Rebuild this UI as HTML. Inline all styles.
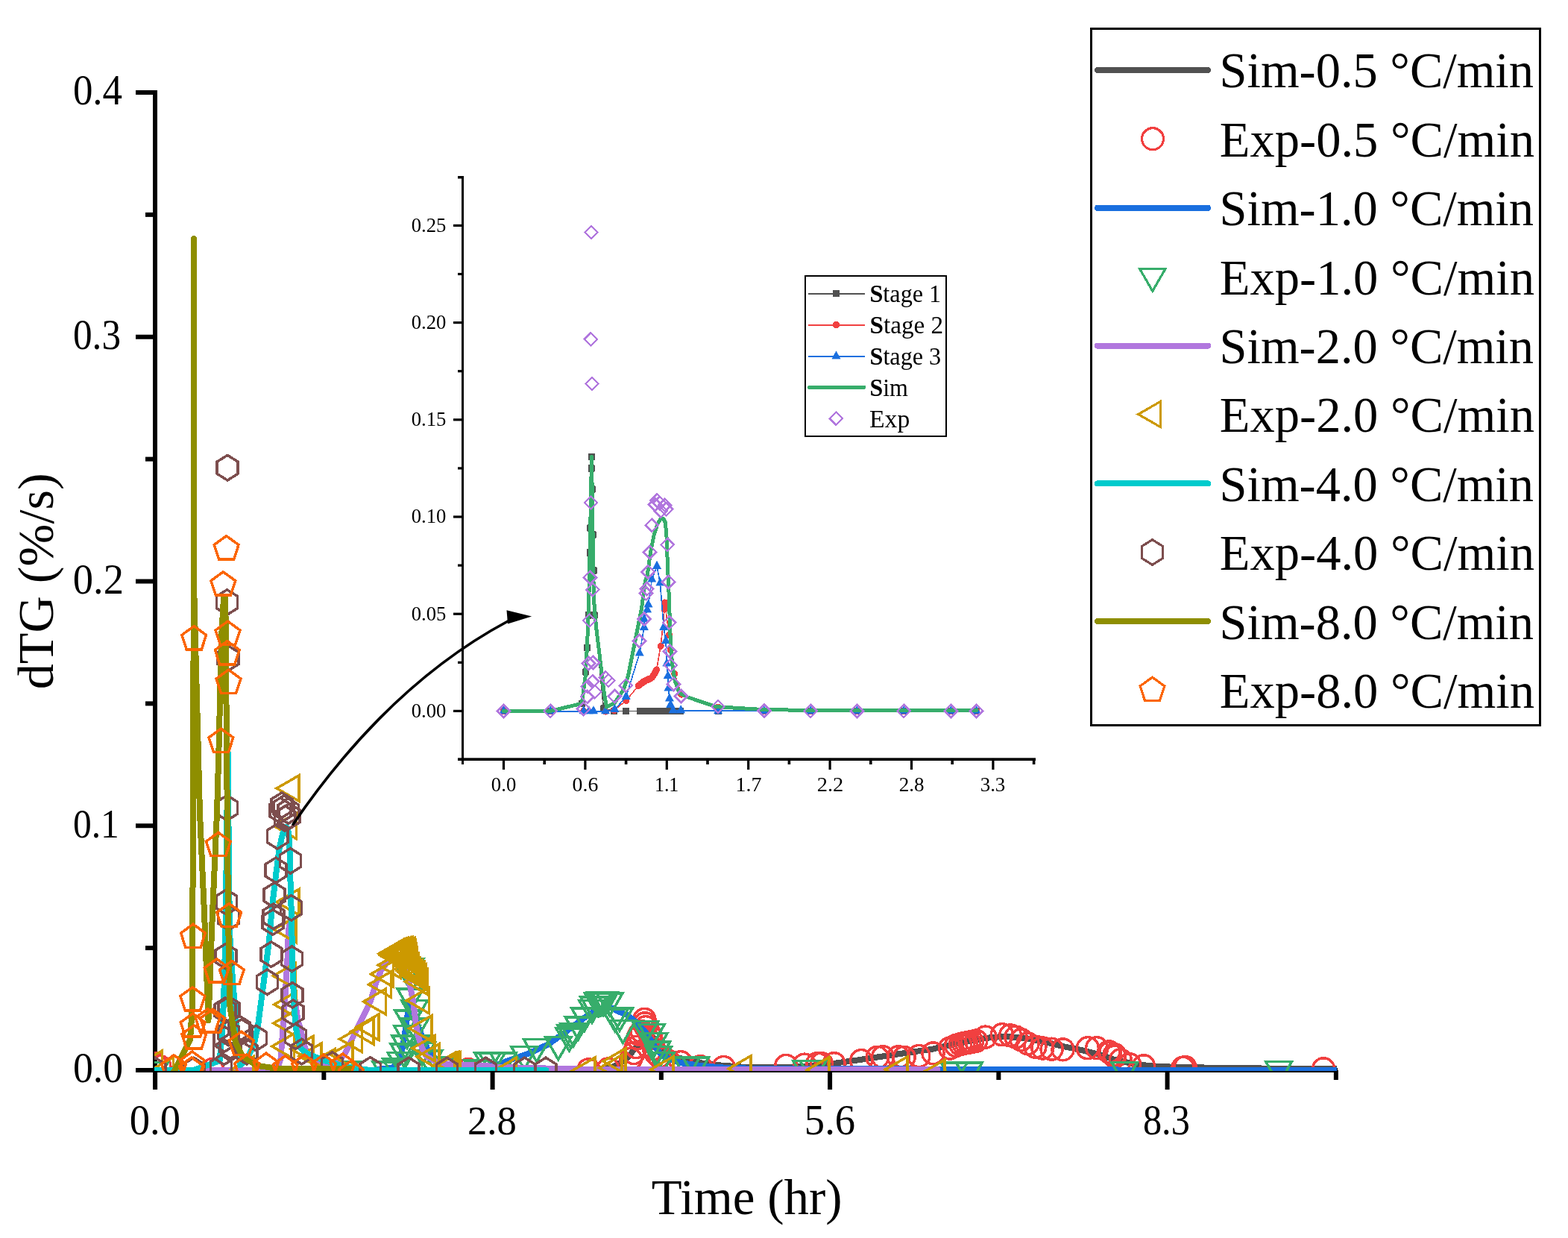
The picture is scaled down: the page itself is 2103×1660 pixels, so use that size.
<!DOCTYPE html>
<html lang="en"><head><meta charset="utf-8"><title>dTG vs Time</title>
<style>html,body{margin:0;padding:0;background:#fff}svg{display:block}text{font-family:"Liberation Serif", serif;fill:#000}</style></head>
<body>
<svg xmlns="http://www.w3.org/2000/svg" width="2103" height="1660" viewBox="0 0 2103 1660">
<defs><clipPath id="cm"><rect x="207" y="0" width="1586" height="1436"/></clipPath></defs>
<rect width="2103" height="1660" fill="#fff"/>
<g id="axes">
<rect x="205.00" y="121.00" width="6.00" height="1340.00" fill="#000"/>
<rect x="182.00" y="1432.00" width="1612.00" height="6.00" fill="#000"/>
<rect x="182.00" y="1432.00" width="26.00" height="6.00" fill="#000"/>
<rect x="195.00" y="1268.12" width="13.00" height="6.00" fill="#000"/>
<rect x="182.00" y="1104.25" width="26.00" height="6.00" fill="#000"/>
<rect x="195.00" y="940.38" width="13.00" height="6.00" fill="#000"/>
<rect x="182.00" y="776.50" width="26.00" height="6.00" fill="#000"/>
<rect x="195.00" y="612.62" width="13.00" height="6.00" fill="#000"/>
<rect x="182.00" y="448.75" width="26.00" height="6.00" fill="#000"/>
<rect x="195.00" y="284.88" width="13.00" height="6.00" fill="#000"/>
<rect x="182.00" y="121.00" width="26.00" height="6.00" fill="#000"/>
<rect x="205.10" y="1435.00" width="6.00" height="26.00" fill="#000"/>
<rect x="431.35" y="1435.00" width="6.00" height="13.00" fill="#000"/>
<rect x="657.60" y="1435.00" width="6.00" height="26.00" fill="#000"/>
<rect x="883.85" y="1435.00" width="6.00" height="13.00" fill="#000"/>
<rect x="1110.10" y="1435.00" width="6.00" height="26.00" fill="#000"/>
<rect x="1336.35" y="1435.00" width="6.00" height="13.00" fill="#000"/>
<rect x="1562.60" y="1435.00" width="6.00" height="26.00" fill="#000"/>
<rect x="1788.85" y="1435.00" width="6.00" height="13.00" fill="#000"/>
</g>
<g id="labels">
<text transform="translate(97.91,140.00) scale(0.9448,1)" font-size="56">0.4</text>
<text transform="translate(97.97,467.75) scale(0.9152,1)" font-size="56">0.3</text>
<text transform="translate(97.85,795.50) scale(0.9738,1)" font-size="56">0.2</text>
<text transform="translate(98.03,1123.25) scale(0.8831,1)" font-size="56">0.1</text>
<text transform="translate(97.88,1451.00) scale(0.9591,1)" font-size="56">0.0</text>
<text transform="translate(173.85,1520.70) scale(0.9742,1)" font-size="56">0.0</text>
<text transform="translate(627.02,1520.70) scale(0.9394,1)" font-size="56">2.8</text>
<text transform="translate(1078.87,1520.70) scale(0.9754,1)" font-size="56">5.6</text>
<text transform="translate(1532.90,1520.70) scale(0.8985,1)" font-size="56">8.3</text>
<text transform="translate(873.70,1628.00) scale(0.9988,1)" font-size="67">Time (hr)</text>
<text transform="translate(70.50,924.34) rotate(-90) scale(1.0193,1)" font-size="67">dTG (%/s)</text>
</g>
<g id="main-data" clip-path="url(#cm)" shape-rendering="crispEdges">
<g id="sim-gray"><polyline points="208.0,1435.0 600.0,1435.0 790.0,1434.5 820.0,1432.0 840.0,1420.0 850.0,1408.0 860.0,1396.0 868.0,1389.5 872.0,1388.5 877.0,1392.0 885.0,1402.0 895.0,1412.0 910.0,1418.4 931.3,1424.0 960.0,1428.0 1000.0,1431.0 1060.0,1431.0 1090.0,1429.0 1113.6,1426.5 1150.0,1421.5 1200.0,1414.0 1250.0,1406.8 1277.1,1400.6 1314.2,1393.2 1332.7,1390.7 1351.3,1390.0 1376.0,1392.0 1400.7,1396.9 1425.5,1403.0 1450.2,1408.0 1475.0,1414.2 1493.5,1420.4 1520.0,1426.5 1550.0,1430.0 1600.0,1431.3 1650.0,1432.0 1700.0,1432.6 1800.0,1433.1" fill="none" stroke="#515151" stroke-width="8" stroke-linejoin="round" stroke-linecap="round" /></g>
<g id="exp-red"><circle cx="208.0" cy="1426.0" r="14.5" fill="none" stroke="#F14040" stroke-width="3.5"/><circle cx="214.4" cy="1430.0" r="14.5" fill="none" stroke="#F14040" stroke-width="3.5"/><circle cx="285.0" cy="1434.0" r="14.5" fill="none" stroke="#F14040" stroke-width="3.5"/><circle cx="628.0" cy="1434.0" r="14.5" fill="none" stroke="#F14040" stroke-width="3.5"/><circle cx="789.4" cy="1434.3" r="14.5" fill="none" stroke="#F14040" stroke-width="3.5"/><circle cx="815.7" cy="1433.5" r="14.5" fill="none" stroke="#F14040" stroke-width="3.5"/><circle cx="846.0" cy="1420.0" r="14.5" fill="none" stroke="#F14040" stroke-width="3.5"/><circle cx="850.0" cy="1412.0" r="14.5" fill="none" stroke="#F14040" stroke-width="3.5"/><circle cx="853.0" cy="1404.0" r="14.5" fill="none" stroke="#F14040" stroke-width="3.5"/><circle cx="855.3" cy="1392.0" r="14.5" fill="none" stroke="#F14040" stroke-width="3.5"/><circle cx="857.5" cy="1387.0" r="14.5" fill="none" stroke="#F14040" stroke-width="3.5"/><circle cx="860.6" cy="1383.0" r="14.5" fill="none" stroke="#F14040" stroke-width="3.5"/><circle cx="864.4" cy="1366.9" r="14.5" fill="none" stroke="#F14040" stroke-width="3.5"/><circle cx="865.0" cy="1372.3" r="14.5" fill="none" stroke="#F14040" stroke-width="3.5"/><circle cx="866.0" cy="1377.2" r="14.5" fill="none" stroke="#F14040" stroke-width="3.5"/><circle cx="870.0" cy="1384.0" r="14.5" fill="none" stroke="#F14040" stroke-width="3.5"/><circle cx="872.7" cy="1390.0" r="14.5" fill="none" stroke="#F14040" stroke-width="3.5"/><circle cx="875.0" cy="1398.0" r="14.5" fill="none" stroke="#F14040" stroke-width="3.5"/><circle cx="877.0" cy="1406.0" r="14.5" fill="none" stroke="#F14040" stroke-width="3.5"/><circle cx="880.0" cy="1413.0" r="14.5" fill="none" stroke="#F14040" stroke-width="3.5"/><circle cx="884.0" cy="1417.0" r="14.5" fill="none" stroke="#F14040" stroke-width="3.5"/><circle cx="890.0" cy="1420.0" r="14.5" fill="none" stroke="#F14040" stroke-width="3.5"/><circle cx="897.0" cy="1423.0" r="14.5" fill="none" stroke="#F14040" stroke-width="3.5"/><circle cx="912.9" cy="1424.2" r="14.5" fill="none" stroke="#F14040" stroke-width="3.5"/><circle cx="939.4" cy="1430.2" r="14.5" fill="none" stroke="#F14040" stroke-width="3.5"/><circle cx="970.6" cy="1431.0" r="14.5" fill="none" stroke="#F14040" stroke-width="3.5"/><circle cx="1054.3" cy="1428.9" r="14.5" fill="none" stroke="#F14040" stroke-width="3.5"/><circle cx="1079.0" cy="1427.7" r="14.5" fill="none" stroke="#F14040" stroke-width="3.5"/><circle cx="1096.3" cy="1426.2" r="14.5" fill="none" stroke="#F14040" stroke-width="3.5"/><circle cx="1101.9" cy="1426.2" r="14.5" fill="none" stroke="#F14040" stroke-width="3.5"/><circle cx="1118.6" cy="1426.2" r="14.5" fill="none" stroke="#F14040" stroke-width="3.5"/><circle cx="1155.1" cy="1422.1" r="14.5" fill="none" stroke="#F14040" stroke-width="3.5"/><circle cx="1176.7" cy="1417.8" r="14.5" fill="none" stroke="#F14040" stroke-width="3.5"/><circle cx="1184.1" cy="1417.2" r="14.5" fill="none" stroke="#F14040" stroke-width="3.5"/><circle cx="1205.1" cy="1417.2" r="14.5" fill="none" stroke="#F14040" stroke-width="3.5"/><circle cx="1212.6" cy="1417.8" r="14.5" fill="none" stroke="#F14040" stroke-width="3.5"/><circle cx="1232.3" cy="1416.0" r="14.5" fill="none" stroke="#F14040" stroke-width="3.5"/><circle cx="1251.5" cy="1412.3" r="14.5" fill="none" stroke="#F14040" stroke-width="3.5"/><circle cx="1274.0" cy="1405.5" r="14.5" fill="none" stroke="#F14040" stroke-width="3.5"/><circle cx="1282.0" cy="1402.0" r="14.5" fill="none" stroke="#F14040" stroke-width="3.5"/><circle cx="1288.0" cy="1400.2" r="14.5" fill="none" stroke="#F14040" stroke-width="3.5"/><circle cx="1292.0" cy="1399.2" r="14.5" fill="none" stroke="#F14040" stroke-width="3.5"/><circle cx="1296.0" cy="1398.4" r="14.5" fill="none" stroke="#F14040" stroke-width="3.5"/><circle cx="1300.0" cy="1397.6" r="14.5" fill="none" stroke="#F14040" stroke-width="3.5"/><circle cx="1304.0" cy="1396.8" r="14.5" fill="none" stroke="#F14040" stroke-width="3.5"/><circle cx="1309.2" cy="1395.6" r="14.5" fill="none" stroke="#F14040" stroke-width="3.5"/><circle cx="1321.6" cy="1390.6" r="14.5" fill="none" stroke="#F14040" stroke-width="3.5"/><circle cx="1343.9" cy="1387.2" r="14.5" fill="none" stroke="#F14040" stroke-width="3.5"/><circle cx="1355.0" cy="1388.4" r="14.5" fill="none" stroke="#F14040" stroke-width="3.5"/><circle cx="1362.4" cy="1390.6" r="14.5" fill="none" stroke="#F14040" stroke-width="3.5"/><circle cx="1369.8" cy="1394.3" r="14.5" fill="none" stroke="#F14040" stroke-width="3.5"/><circle cx="1378.5" cy="1399.3" r="14.5" fill="none" stroke="#F14040" stroke-width="3.5"/><circle cx="1388.4" cy="1403.6" r="14.5" fill="none" stroke="#F14040" stroke-width="3.5"/><circle cx="1398.3" cy="1405.5" r="14.5" fill="none" stroke="#F14040" stroke-width="3.5"/><circle cx="1410.6" cy="1406.7" r="14.5" fill="none" stroke="#F14040" stroke-width="3.5"/><circle cx="1425.5" cy="1407.3" r="14.5" fill="none" stroke="#F14040" stroke-width="3.5"/><circle cx="1458.8" cy="1405.2" r="14.5" fill="none" stroke="#F14040" stroke-width="3.5"/><circle cx="1471.2" cy="1405.2" r="14.5" fill="none" stroke="#F14040" stroke-width="3.5"/><circle cx="1487.3" cy="1410.4" r="14.5" fill="none" stroke="#F14040" stroke-width="3.5"/><circle cx="1494.7" cy="1414.0" r="14.5" fill="none" stroke="#F14040" stroke-width="3.5"/><circle cx="1489.1" cy="1411.5" r="14.5" fill="none" stroke="#F14040" stroke-width="3.5"/><circle cx="1495.2" cy="1416.9" r="14.5" fill="none" stroke="#F14040" stroke-width="3.5"/><circle cx="1502.8" cy="1421.4" r="14.5" fill="none" stroke="#F14040" stroke-width="3.5"/><circle cx="1515.0" cy="1427.2" r="14.5" fill="none" stroke="#F14040" stroke-width="3.5"/><circle cx="1534.0" cy="1429.3" r="14.5" fill="none" stroke="#F14040" stroke-width="3.5"/><circle cx="1586.5" cy="1431.8" r="14.5" fill="none" stroke="#F14040" stroke-width="3.5"/><circle cx="1589.5" cy="1431.0" r="14.5" fill="none" stroke="#F14040" stroke-width="3.5"/><circle cx="1775.2" cy="1433.3" r="14.5" fill="none" stroke="#F14040" stroke-width="3.5"/></g>
<g id="sim-blue"><polyline points="208.0,1435.0 500.0,1435.0 525.0,1432.0 536.0,1425.0 539.0,1410.0 542.5,1390.0 546.0,1365.0 548.5,1349.0 550.0,1345.0 553.0,1352.0 557.5,1366.0 562.5,1380.0 567.0,1392.0 574.0,1408.0 585.0,1421.0 600.0,1428.0 610.0,1430.0 640.0,1430.5 669.5,1426.5 707.6,1413.2 736.1,1399.9 759.9,1382.7 783.6,1364.7 800.0,1354.0 812.0,1350.0 820.0,1351.5 828.6,1356.0 841.4,1361.0 855.0,1372.0 868.0,1386.8 880.0,1405.6 886.8,1414.2 900.0,1421.0 914.2,1425.3 939.8,1429.0 970.0,1431.5 1000.0,1432.5 1100.0,1432.9 1260.0,1433.7 1500.0,1434.5 1800.0,1434.8" fill="none" stroke="#1A6FDF" stroke-width="8" stroke-linejoin="round" stroke-linecap="round" /></g>
<g id="exp-green"><polygon points="190.7,1424.5 225.3,1424.5 208.0,1454.5" fill="none" stroke="#37AD6B" stroke-width="3.5"/><polygon points="449.7,1424.0 484.3,1424.0 467.0,1454.0" fill="none" stroke="#37AD6B" stroke-width="3.5"/><polygon points="500.1,1423.9 534.7,1423.9 517.4,1453.9" fill="none" stroke="#37AD6B" stroke-width="3.5"/><polygon points="513.7,1420.0 548.3,1420.0 531.0,1450.0" fill="none" stroke="#37AD6B" stroke-width="3.5"/><polygon points="520.2,1411.5 554.8,1411.5 537.5,1441.5" fill="none" stroke="#37AD6B" stroke-width="3.5"/><polygon points="524.1,1399.9 558.7,1399.9 541.4,1429.9" fill="none" stroke="#37AD6B" stroke-width="3.5"/><polygon points="526.0,1388.9 560.6,1388.9 543.3,1418.9" fill="none" stroke="#37AD6B" stroke-width="3.5"/><polygon points="528.6,1375.3 563.2,1375.3 545.9,1405.3" fill="none" stroke="#37AD6B" stroke-width="3.5"/><polygon points="529.9,1355.2 564.5,1355.2 547.2,1385.2" fill="none" stroke="#37AD6B" stroke-width="3.5"/><polygon points="533.1,1326.0 567.7,1326.0 550.4,1356.0" fill="none" stroke="#37AD6B" stroke-width="3.5"/><polygon points="533.5,1285.3 568.1,1285.3 550.8,1315.3" fill="none" stroke="#37AD6B" stroke-width="3.5"/><polygon points="534.7,1300.0 569.3,1300.0 552.0,1330.0" fill="none" stroke="#37AD6B" stroke-width="3.5"/><polygon points="538.7,1341.6 573.3,1341.6 556.0,1371.6" fill="none" stroke="#37AD6B" stroke-width="3.5"/><polygon points="540.0,1366.2 574.6,1366.2 557.3,1396.2" fill="none" stroke="#37AD6B" stroke-width="3.5"/><polygon points="543.8,1388.9 578.4,1388.9 561.1,1418.9" fill="none" stroke="#37AD6B" stroke-width="3.5"/><polygon points="548.7,1398.0 583.3,1398.0 566.0,1428.0" fill="none" stroke="#37AD6B" stroke-width="3.5"/><polygon points="558.1,1409.0 592.7,1409.0 575.4,1439.0" fill="none" stroke="#37AD6B" stroke-width="3.5"/><polygon points="572.7,1418.0 607.3,1418.0 590.0,1448.0" fill="none" stroke="#37AD6B" stroke-width="3.5"/><polygon points="622.7,1422.0 657.3,1422.0 640.0,1452.0" fill="none" stroke="#37AD6B" stroke-width="3.5"/><polygon points="636.7,1411.8 671.3,1411.8 654.0,1441.8" fill="none" stroke="#37AD6B" stroke-width="3.5"/><polygon points="642.7,1411.8 677.3,1411.8 660.0,1441.8" fill="none" stroke="#37AD6B" stroke-width="3.5"/><polygon points="657.5,1411.8 692.1,1411.8 674.8,1441.8" fill="none" stroke="#37AD6B" stroke-width="3.5"/><polygon points="685.9,1403.7 720.5,1403.7 703.2,1433.7" fill="none" stroke="#37AD6B" stroke-width="3.5"/><polygon points="702.5,1393.6 737.1,1393.6 719.8,1423.6" fill="none" stroke="#37AD6B" stroke-width="3.5"/><polygon points="731.5,1390.7 766.1,1390.7 748.8,1420.7" fill="none" stroke="#37AD6B" stroke-width="3.5"/><polygon points="746.1,1379.2 780.7,1379.2 763.4,1409.2" fill="none" stroke="#37AD6B" stroke-width="3.5"/><polygon points="748.2,1375.0 782.8,1375.0 765.5,1405.0" fill="none" stroke="#37AD6B" stroke-width="3.5"/><polygon points="751.8,1372.8 786.4,1372.8 769.1,1402.8" fill="none" stroke="#37AD6B" stroke-width="3.5"/><polygon points="758.2,1363.8 792.8,1363.8 775.5,1393.8" fill="none" stroke="#37AD6B" stroke-width="3.5"/><polygon points="766.7,1351.9 801.3,1351.9 784.0,1381.9" fill="none" stroke="#37AD6B" stroke-width="3.5"/><polygon points="776.7,1341.4 811.3,1341.4 794.0,1371.4" fill="none" stroke="#37AD6B" stroke-width="3.5"/><polygon points="778.9,1337.2 813.5,1337.2 796.2,1367.2" fill="none" stroke="#37AD6B" stroke-width="3.5"/><polygon points="784.6,1332.2 819.2,1332.2 801.9,1362.2" fill="none" stroke="#37AD6B" stroke-width="3.5"/><polygon points="786.2,1331.5 820.8,1331.5 803.5,1361.5" fill="none" stroke="#37AD6B" stroke-width="3.5"/><polygon points="787.7,1331.0 822.3,1331.0 805.0,1361.0" fill="none" stroke="#37AD6B" stroke-width="3.5"/><polygon points="789.2,1330.7 823.8,1330.7 806.5,1360.7" fill="none" stroke="#37AD6B" stroke-width="3.5"/><polygon points="791.0,1330.7 825.6,1330.7 808.3,1360.7" fill="none" stroke="#37AD6B" stroke-width="3.5"/><polygon points="792.5,1330.6 827.1,1330.6 809.8,1360.6" fill="none" stroke="#37AD6B" stroke-width="3.5"/><polygon points="793.9,1331.0 828.5,1331.0 811.2,1361.0" fill="none" stroke="#37AD6B" stroke-width="3.5"/><polygon points="800.4,1331.9 835.0,1331.9 817.7,1361.9" fill="none" stroke="#37AD6B" stroke-width="3.5"/><polygon points="807.5,1352.9 842.1,1352.9 824.8,1382.9" fill="none" stroke="#37AD6B" stroke-width="3.5"/><polygon points="813.8,1352.1 848.4,1352.1 831.1,1382.1" fill="none" stroke="#37AD6B" stroke-width="3.5"/><polygon points="818.1,1368.5 852.7,1368.5 835.4,1398.5" fill="none" stroke="#37AD6B" stroke-width="3.5"/><polygon points="848.2,1369.3 882.8,1369.3 865.5,1399.3" fill="none" stroke="#37AD6B" stroke-width="3.5"/><polygon points="856.7,1373.5 891.3,1373.5 874.0,1403.5" fill="none" stroke="#37AD6B" stroke-width="3.5"/><polygon points="860.3,1385.7 894.9,1385.7 877.6,1415.7" fill="none" stroke="#37AD6B" stroke-width="3.5"/><polygon points="863.9,1397.1 898.5,1397.1 881.2,1427.1" fill="none" stroke="#37AD6B" stroke-width="3.5"/><polygon points="866.0,1403.5 900.6,1403.5 883.3,1433.5" fill="none" stroke="#37AD6B" stroke-width="3.5"/><polygon points="869.6,1411.3 904.2,1411.3 886.9,1441.3" fill="none" stroke="#37AD6B" stroke-width="3.5"/><polygon points="903.7,1417.8 938.3,1417.8 921.0,1447.8" fill="none" stroke="#37AD6B" stroke-width="3.5"/><polygon points="915.9,1417.8 950.5,1417.8 933.2,1447.8" fill="none" stroke="#37AD6B" stroke-width="3.5"/><polygon points="1063.7,1422.5 1098.3,1422.5 1081.0,1452.5" fill="none" stroke="#37AD6B" stroke-width="3.5"/><polygon points="1073.3,1422.5 1107.9,1422.5 1090.6,1452.5" fill="none" stroke="#37AD6B" stroke-width="3.5"/><polygon points="1262.4,1425.0 1297.0,1425.0 1279.7,1455.0" fill="none" stroke="#37AD6B" stroke-width="3.5"/><polygon points="1282.5,1425.0 1317.1,1425.0 1299.8,1455.0" fill="none" stroke="#37AD6B" stroke-width="3.5"/><polygon points="1490.8,1424.4 1525.4,1424.4 1508.1,1454.4" fill="none" stroke="#37AD6B" stroke-width="3.5"/><polygon points="1697.8,1423.7 1732.4,1423.7 1715.1,1453.7" fill="none" stroke="#37AD6B" stroke-width="3.5"/></g>
<g id="sim-purple"><polyline points="208.0,1435.0 360.0,1435.0 372.0,1432.0 376.5,1420.0 381.7,1347.6 385.4,1288.6 386.8,1251.7 388.2,1238.0 390.5,1246.0 392.4,1290.0 394.0,1330.0 399.0,1365.0 405.3,1390.0 409.7,1406.6 418.6,1421.4 432.0,1428.0 448.0,1426.0 456.0,1421.0 462.9,1412.5 477.8,1381.6 489.2,1358.7 497.2,1341.6 504.1,1318.7 511.0,1301.5 520.1,1288.9 531.6,1272.9 537.0,1268.5 541.0,1270.0 543.6,1277.5 545.3,1301.5 549.5,1320.0 553.9,1341.6 556.8,1364.5 560.2,1387.4 565.9,1404.5 571.6,1416.0 583.6,1423.0 596.6,1427.0 620.0,1428.4 650.0,1428.6 665.0,1431.0 700.0,1431.6 745.0,1432.9 800.0,1433.8 900.0,1434.1 1000.0,1434.1 1257.5,1434.2" fill="none" stroke="#B177DE" stroke-width="8" stroke-linejoin="round" stroke-linecap="round" /></g>
<g id="exp-gold"><polygon points="217.6,1408.8 217.6,1443.2 187.6,1426.0" fill="none" stroke="#CC9900" stroke-width="3.5"/><polygon points="232.5,1417.6 232.5,1452.0 202.5,1434.8" fill="none" stroke="#CC9900" stroke-width="3.5"/><polygon points="340.0,1416.8 340.0,1451.2 310.0,1434.0" fill="none" stroke="#CC9900" stroke-width="3.5"/><polygon points="394.7,1385.8 394.7,1420.2 364.7,1403.0" fill="none" stroke="#CC9900" stroke-width="3.5"/><polygon points="396.9,1354.8 396.9,1389.2 366.9,1372.0" fill="none" stroke="#CC9900" stroke-width="3.5"/><polygon points="397.7,1329.7 397.7,1364.1 367.7,1346.9" fill="none" stroke="#CC9900" stroke-width="3.5"/><polygon points="396.4,1291.3 396.4,1325.7 366.4,1308.5" fill="none" stroke="#CC9900" stroke-width="3.5"/><polygon points="397.1,1229.3 397.1,1263.7 367.1,1246.5" fill="none" stroke="#CC9900" stroke-width="3.5"/><polygon points="400.8,1192.4 400.8,1226.8 370.8,1209.6" fill="none" stroke="#CC9900" stroke-width="3.5"/><polygon points="397.4,1090.3 397.4,1124.7 367.4,1107.5" fill="none" stroke="#CC9900" stroke-width="3.5"/><polygon points="401.0,1039.8 401.0,1074.2 371.0,1057.0" fill="none" stroke="#CC9900" stroke-width="3.5"/><polygon points="420.0,1389.4 420.0,1423.8 390.0,1406.6" fill="none" stroke="#CC9900" stroke-width="3.5"/><polygon points="431.1,1399.0 431.1,1433.4 401.1,1416.2" fill="none" stroke="#CC9900" stroke-width="3.5"/><polygon points="449.5,1406.4 449.5,1440.8 419.5,1423.6" fill="none" stroke="#CC9900" stroke-width="3.5"/><polygon points="472.9,1396.7 472.9,1431.1 442.9,1413.9" fill="none" stroke="#CC9900" stroke-width="3.5"/><polygon points="485.5,1376.1 485.5,1410.5 455.5,1393.3" fill="none" stroke="#CC9900" stroke-width="3.5"/><polygon points="501.0,1365.8 501.0,1400.2 471.0,1383.0" fill="none" stroke="#CC9900" stroke-width="3.5"/><polygon points="507.9,1360.1 507.9,1394.5 477.9,1377.3" fill="none" stroke="#CC9900" stroke-width="3.5"/><polygon points="517.6,1325.8 517.6,1360.2 487.6,1343.0" fill="none" stroke="#CC9900" stroke-width="3.5"/><polygon points="524.5,1302.9 524.5,1337.3 494.5,1320.1" fill="none" stroke="#CC9900" stroke-width="3.5"/><polygon points="527.4,1288.9 527.4,1323.3 497.4,1306.1" fill="none" stroke="#CC9900" stroke-width="3.5"/><polygon points="537.1,1276.9 537.1,1311.3 507.1,1294.1" fill="none" stroke="#CC9900" stroke-width="3.5"/><polygon points="538.2,1261.4 538.2,1295.8 508.2,1278.6" fill="none" stroke="#CC9900" stroke-width="3.5"/><polygon points="539.5,1263.8 539.5,1298.2 509.5,1281.0" fill="none" stroke="#CC9900" stroke-width="3.5"/><polygon points="541.0,1259.8 541.0,1294.2 511.0,1277.0" fill="none" stroke="#CC9900" stroke-width="3.5"/><polygon points="542.5,1262.3 542.5,1296.7 512.5,1279.5" fill="none" stroke="#CC9900" stroke-width="3.5"/><polygon points="544.0,1258.8 544.0,1293.2 514.0,1276.0" fill="none" stroke="#CC9900" stroke-width="3.5"/><polygon points="545.5,1260.8 545.5,1295.2 515.5,1278.0" fill="none" stroke="#CC9900" stroke-width="3.5"/><polygon points="547.0,1257.8 547.0,1292.2 517.0,1275.0" fill="none" stroke="#CC9900" stroke-width="3.5"/><polygon points="548.5,1259.8 548.5,1294.2 518.5,1277.0" fill="none" stroke="#CC9900" stroke-width="3.5"/><polygon points="550.0,1257.3 550.0,1291.7 520.0,1274.5" fill="none" stroke="#CC9900" stroke-width="3.5"/><polygon points="551.5,1259.3 551.5,1293.7 521.5,1276.5" fill="none" stroke="#CC9900" stroke-width="3.5"/><polygon points="553.0,1256.8 553.0,1291.2 523.0,1274.0" fill="none" stroke="#CC9900" stroke-width="3.5"/><polygon points="554.5,1258.8 554.5,1293.2 524.5,1276.0" fill="none" stroke="#CC9900" stroke-width="3.5"/><polygon points="556.5,1257.1 556.5,1291.5 526.5,1274.3" fill="none" stroke="#CC9900" stroke-width="3.5"/><polygon points="557.2,1260.8 557.2,1295.2 527.2,1278.0" fill="none" stroke="#CC9900" stroke-width="3.5"/><polygon points="558.0,1265.8 558.0,1300.2 528.0,1283.0" fill="none" stroke="#CC9900" stroke-width="3.5"/><polygon points="559.0,1270.8 559.0,1305.2 529.0,1288.0" fill="none" stroke="#CC9900" stroke-width="3.5"/><polygon points="559.5,1276.8 559.5,1311.2 529.5,1294.0" fill="none" stroke="#CC9900" stroke-width="3.5"/><polygon points="559.9,1282.3 559.9,1316.7 529.9,1299.5" fill="none" stroke="#CC9900" stroke-width="3.5"/><polygon points="561.0,1278.8 561.0,1313.2 531.0,1296.0" fill="none" stroke="#CC9900" stroke-width="3.5"/><polygon points="563.0,1284.8 563.0,1319.2 533.0,1302.0" fill="none" stroke="#CC9900" stroke-width="3.5"/><polygon points="566.0,1287.3 566.0,1321.7 536.0,1304.5" fill="none" stroke="#CC9900" stroke-width="3.5"/><polygon points="569.0,1289.8 569.0,1324.2 539.0,1307.0" fill="none" stroke="#CC9900" stroke-width="3.5"/><polygon points="571.7,1292.5 571.7,1326.9 541.7,1309.7" fill="none" stroke="#CC9900" stroke-width="3.5"/><polygon points="573.5,1299.1 573.5,1333.5 543.5,1316.3" fill="none" stroke="#CC9900" stroke-width="3.5"/><polygon points="575.3,1324.4 575.3,1358.8 545.3,1341.6" fill="none" stroke="#CC9900" stroke-width="3.5"/><polygon points="579.0,1361.8 579.0,1396.2 549.0,1379.0" fill="none" stroke="#CC9900" stroke-width="3.5"/><polygon points="583.2,1388.3 583.2,1422.7 553.2,1405.5" fill="none" stroke="#CC9900" stroke-width="3.5"/><polygon points="589.2,1399.7 589.2,1434.1 559.2,1416.9" fill="none" stroke="#CC9900" stroke-width="3.5"/><polygon points="610.0,1411.8 610.0,1446.2 580.0,1429.0" fill="none" stroke="#CC9900" stroke-width="3.5"/><polygon points="612.5,1411.3 612.5,1445.7 582.5,1428.5" fill="none" stroke="#CC9900" stroke-width="3.5"/><polygon points="615.0,1410.8 615.0,1445.2 585.0,1428.0" fill="none" stroke="#CC9900" stroke-width="3.5"/><polygon points="617.5,1410.6 617.5,1445.0 587.5,1427.8" fill="none" stroke="#CC9900" stroke-width="3.5"/><polygon points="692.7,1418.2 692.7,1452.6 662.7,1435.4" fill="none" stroke="#CC9900" stroke-width="3.5"/><polygon points="797.8,1418.2 797.8,1452.6 767.8,1435.4" fill="none" stroke="#CC9900" stroke-width="3.5"/><polygon points="834.0,1414.8 834.0,1449.2 804.0,1432.0" fill="none" stroke="#CC9900" stroke-width="3.5"/><polygon points="839.0,1405.8 839.0,1440.2 809.0,1423.0" fill="none" stroke="#CC9900" stroke-width="3.5"/><polygon points="902.8,1416.8 902.8,1451.2 872.8,1434.0" fill="none" stroke="#CC9900" stroke-width="3.5"/><polygon points="1007.0,1415.9 1007.0,1450.3 977.0,1433.1" fill="none" stroke="#CC9900" stroke-width="3.5"/><polygon points="1112.1,1417.5 1112.1,1451.9 1082.1,1434.7" fill="none" stroke="#CC9900" stroke-width="3.5"/><polygon points="1217.2,1416.9 1217.2,1451.3 1187.2,1434.1" fill="none" stroke="#CC9900" stroke-width="3.5"/><polygon points="1267.2,1421.0 1267.2,1455.4 1237.2,1438.2" fill="none" stroke="#CC9900" stroke-width="3.5"/></g>
<g id="sim-cyan"><polyline points="208.0,1435.0 259.8,1435.0 294.7,1422.3 298.6,1376.0 300.6,1322.9 302.1,1262.2 302.9,1216.8 305.5,1006.0 307.6,1216.8 308.6,1262.2 311.0,1300.2 314.1,1338.1 317.1,1376.0 319.6,1406.3 322.0,1428.3 331.0,1421.5 341.0,1398.8 345.9,1376.0 350.9,1338.1 355.9,1300.2 360.9,1262.2 364.8,1216.8 370.8,1167.2 374.8,1136.9 379.0,1118.0 382.8,1108.8 385.5,1110.5 387.2,1117.1 388.7,1144.4 389.7,1190.0 390.7,1220.3 391.7,1262.2 392.7,1307.8 394.7,1353.2 397.7,1383.5 402.7,1404.8 410.6,1412.0 418.6,1415.5 433.3,1421.4 462.8,1430.3 492.4,1434.5 505.9,1435.0 732.3,1435.0" fill="none" stroke="#00CBCC" stroke-width="8" stroke-linejoin="round" stroke-linecap="round" /></g>
<g id="exp-brown"><polygon points="208.0,1418.2 221.9,1426.9 221.9,1443.1 208.0,1451.8 194.1,1443.1 194.1,1426.9" fill="none" stroke="#7D4E4E" stroke-width="3.5"/><polygon points="259.8,1418.2 273.8,1426.9 273.8,1443.1 259.8,1451.8 245.9,1443.1 245.9,1426.9" fill="none" stroke="#7D4E4E" stroke-width="3.5"/><polygon points="296.7,1414.6 310.6,1423.3 310.6,1439.5 296.7,1448.2 282.7,1439.5 282.7,1423.3" fill="none" stroke="#7D4E4E" stroke-width="3.5"/><polygon points="305.1,610.4 319.0,619.1 319.0,635.3 305.1,644.0 291.1,635.3 291.1,619.1" fill="none" stroke="#7D4E4E" stroke-width="3.5"/><polygon points="304.5,790.8 318.5,799.5 318.5,815.7 304.5,824.4 290.6,815.7 290.6,799.5" fill="none" stroke="#7D4E4E" stroke-width="3.5"/><polygon points="305.9,865.8 319.9,874.5 319.9,890.7 305.9,899.4 292.0,890.7 292.0,874.5" fill="none" stroke="#7D4E4E" stroke-width="3.5"/><polygon points="304.6,1066.5 318.5,1075.2 318.5,1091.4 304.6,1100.1 290.6,1091.4 290.6,1075.2" fill="none" stroke="#7D4E4E" stroke-width="3.5"/><polygon points="303.8,1192.8 317.7,1201.5 317.7,1217.7 303.8,1226.4 289.8,1217.7 289.8,1201.5" fill="none" stroke="#7D4E4E" stroke-width="3.5"/><polygon points="306.6,1213.3 320.5,1222.0 320.5,1238.2 306.6,1246.9 292.6,1238.2 292.6,1222.0" fill="none" stroke="#7D4E4E" stroke-width="3.5"/><polygon points="302.9,1265.4 316.9,1274.1 316.9,1290.3 302.9,1299.0 289.0,1290.3 289.0,1274.1" fill="none" stroke="#7D4E4E" stroke-width="3.5"/><polygon points="302.1,1337.9 316.1,1346.6 316.1,1362.8 302.1,1371.5 288.2,1362.8 288.2,1346.6" fill="none" stroke="#7D4E4E" stroke-width="3.5"/><polygon points="307.1,1336.4 321.0,1345.1 321.0,1361.3 307.1,1370.0 293.1,1361.3 293.1,1345.1" fill="none" stroke="#7D4E4E" stroke-width="3.5"/><polygon points="306.6,1368.2 320.5,1376.9 320.5,1393.1 306.6,1401.8 292.6,1393.1 292.6,1376.9" fill="none" stroke="#7D4E4E" stroke-width="3.5"/><polygon points="301.1,1376.7 315.1,1385.4 315.1,1401.6 301.1,1410.3 287.2,1401.6 287.2,1385.4" fill="none" stroke="#7D4E4E" stroke-width="3.5"/><polygon points="309.1,1385.7 323.0,1394.4 323.0,1410.6 309.1,1419.3 295.1,1410.6 295.1,1394.4" fill="none" stroke="#7D4E4E" stroke-width="3.5"/><polygon points="300.6,1394.0 314.6,1402.7 314.6,1418.9 300.6,1427.6 286.7,1418.9 286.7,1402.7" fill="none" stroke="#7D4E4E" stroke-width="3.5"/><polygon points="321.0,1362.2 335.0,1370.9 335.0,1387.1 321.0,1395.8 307.1,1387.1 307.1,1370.9" fill="none" stroke="#7D4E4E" stroke-width="3.5"/><polygon points="324.0,1366.7 338.0,1375.4 338.0,1391.6 324.0,1400.3 310.1,1391.6 310.1,1375.4" fill="none" stroke="#7D4E4E" stroke-width="3.5"/><polygon points="331.0,1393.3 344.9,1402.0 344.9,1418.2 331.0,1426.9 317.0,1418.2 317.0,1402.0" fill="none" stroke="#7D4E4E" stroke-width="3.5"/><polygon points="343.4,1375.2 357.4,1383.9 357.4,1400.1 343.4,1408.8 329.5,1400.1 329.5,1383.9" fill="none" stroke="#7D4E4E" stroke-width="3.5"/><polygon points="358.4,1300.0 372.3,1308.7 372.3,1324.9 358.4,1333.6 344.4,1324.9 344.4,1308.7" fill="none" stroke="#7D4E4E" stroke-width="3.5"/><polygon points="363.8,1262.9 377.8,1271.6 377.8,1287.8 363.8,1296.5 349.9,1287.8 349.9,1271.6" fill="none" stroke="#7D4E4E" stroke-width="3.5"/><polygon points="365.8,1219.7 379.8,1228.4 379.8,1244.6 365.8,1253.3 351.9,1244.6 351.9,1228.4" fill="none" stroke="#7D4E4E" stroke-width="3.5"/><polygon points="366.8,1212.0 380.8,1220.7 380.8,1236.9 366.8,1245.6 352.9,1236.9 352.9,1220.7" fill="none" stroke="#7D4E4E" stroke-width="3.5"/><polygon points="368.1,1183.5 382.0,1192.2 382.0,1208.4 368.1,1217.1 354.1,1208.4 354.1,1192.2" fill="none" stroke="#7D4E4E" stroke-width="3.5"/><polygon points="370.0,1150.1 384.0,1158.8 384.0,1175.0 370.0,1183.7 356.1,1175.0 356.1,1158.8" fill="none" stroke="#7D4E4E" stroke-width="3.5"/><polygon points="372.3,1104.6 386.2,1113.3 386.2,1129.5 372.3,1138.2 358.3,1129.5 358.3,1113.3" fill="none" stroke="#7D4E4E" stroke-width="3.5"/><polygon points="375.8,1069.9 389.8,1078.6 389.8,1094.8 375.8,1103.5 361.9,1094.8 361.9,1078.6" fill="none" stroke="#7D4E4E" stroke-width="3.5"/><polygon points="378.0,1062.8 391.9,1071.5 391.9,1087.7 378.0,1096.4 364.0,1087.7 364.0,1071.5" fill="none" stroke="#7D4E4E" stroke-width="3.5"/><polygon points="380.8,1066.9 394.7,1075.6 394.7,1091.8 380.8,1100.5 366.8,1091.8 366.8,1075.6" fill="none" stroke="#7D4E4E" stroke-width="3.5"/><polygon points="382.3,1080.6 396.2,1089.3 396.2,1105.5 382.3,1114.2 368.3,1105.5 368.3,1089.3" fill="none" stroke="#7D4E4E" stroke-width="3.5"/><polygon points="386.7,1070.7 400.7,1079.4 400.7,1095.6 386.7,1104.3 372.8,1095.6 372.8,1079.4" fill="none" stroke="#7D4E4E" stroke-width="3.5"/><polygon points="388.2,1077.6 402.2,1086.3 402.2,1102.5 388.2,1111.2 374.3,1102.5 374.3,1086.3" fill="none" stroke="#7D4E4E" stroke-width="3.5"/><polygon points="389.5,1137.5 403.4,1146.2 403.4,1162.4 389.5,1171.1 375.5,1162.4 375.5,1146.2" fill="none" stroke="#7D4E4E" stroke-width="3.5"/><polygon points="390.7,1200.5 404.6,1209.2 404.6,1225.4 390.7,1234.1 376.7,1225.4 376.7,1209.2" fill="none" stroke="#7D4E4E" stroke-width="3.5"/><polygon points="391.5,1268.9 405.5,1277.6 405.5,1293.8 391.5,1302.5 377.6,1293.8 377.6,1277.6" fill="none" stroke="#7D4E4E" stroke-width="3.5"/><polygon points="392.2,1317.5 406.1,1326.2 406.1,1342.4 392.2,1351.1 378.2,1342.4 378.2,1326.2" fill="none" stroke="#7D4E4E" stroke-width="3.5"/><polygon points="393.2,1340.9 407.1,1349.6 407.1,1365.8 393.2,1374.5 379.2,1365.8 379.2,1349.6" fill="none" stroke="#7D4E4E" stroke-width="3.5"/><polygon points="396.4,1372.8 410.3,1381.5 410.3,1397.7 396.4,1406.4 382.4,1397.7 382.4,1381.5" fill="none" stroke="#7D4E4E" stroke-width="3.5"/><polygon points="404.7,1393.3 418.6,1402.0 418.6,1418.2 404.7,1426.9 390.7,1418.2 390.7,1402.0" fill="none" stroke="#7D4E4E" stroke-width="3.5"/><polygon points="445.6,1410.8 459.6,1419.5 459.6,1435.7 445.6,1444.4 431.7,1435.7 431.7,1419.5" fill="none" stroke="#7D4E4E" stroke-width="3.5"/><polygon points="496.7,1417.7 510.7,1426.4 510.7,1442.6 496.7,1451.3 482.8,1442.6 482.8,1426.4" fill="none" stroke="#7D4E4E" stroke-width="3.5"/><polygon points="548.2,1418.2 562.1,1426.9 562.1,1443.1 548.2,1451.8 534.2,1443.1 534.2,1426.9" fill="none" stroke="#7D4E4E" stroke-width="3.5"/><polygon points="599.5,1418.2 613.5,1426.9 613.5,1443.1 599.5,1451.8 585.6,1443.1 585.6,1426.9" fill="none" stroke="#7D4E4E" stroke-width="3.5"/><polygon points="651.4,1418.2 665.3,1426.9 665.3,1443.1 651.4,1451.8 637.4,1443.1 637.4,1426.9" fill="none" stroke="#7D4E4E" stroke-width="3.5"/><polygon points="703.7,1418.2 717.6,1426.9 717.6,1443.1 703.7,1451.8 689.7,1443.1 689.7,1426.9" fill="none" stroke="#7D4E4E" stroke-width="3.5"/><polygon points="732.0,1418.2 746.0,1426.9 746.0,1443.1 732.0,1451.8 718.1,1443.1 718.1,1426.9" fill="none" stroke="#7D4E4E" stroke-width="3.5"/></g>
<g id="sim-olive"><polyline points="226.0,1446.0 234.0,1436.0 245.6,1412.8 255.0,1394.0 258.0,1349.0 259.8,800.0 260.0,320.0 260.2,790.0 268.0,1090.0 274.2,1228.7 279.5,1368.0 284.8,1228.7 291.0,1090.0 293.5,1003.0 295.2,931.0 297.0,855.0 300.0,801.0 302.0,801.0 303.2,858.7 303.4,931.0 304.0,1003.0 304.8,1090.0 306.0,1228.7 308.4,1349.0 315.7,1397.0 325.3,1416.6 344.6,1428.7 368.7,1432.5 400.0,1432.5 470.2,1432.5" fill="none" stroke="#8E8E00" stroke-width="8" stroke-linejoin="round" stroke-linecap="round" /></g>
<g id="exp-orange"><polygon points="233.1,1414.7 249.5,1426.5 243.2,1445.8 223.0,1445.8 216.7,1426.5" fill="none" stroke="#FB6501" stroke-width="3.5"/><polygon points="257.8,1410.0 274.2,1421.8 267.9,1441.1 247.7,1441.1 241.4,1421.8" fill="none" stroke="#FB6501" stroke-width="3.5"/><polygon points="257.1,1417.9 273.5,1429.7 267.2,1449.0 247.0,1449.0 240.7,1429.7" fill="none" stroke="#FB6501" stroke-width="3.5"/><polygon points="260.2,839.6 276.6,851.5 270.3,870.8 250.1,870.8 243.8,851.5" fill="none" stroke="#FB6501" stroke-width="3.5"/><polygon points="259.0,1239.2 275.4,1251.1 269.1,1270.4 248.9,1270.4 242.6,1251.1" fill="none" stroke="#FB6501" stroke-width="3.5"/><polygon points="258.3,1323.8 274.7,1335.6 268.4,1354.9 248.2,1354.9 241.9,1335.6" fill="none" stroke="#FB6501" stroke-width="3.5"/><polygon points="258.6,1359.0 275.0,1370.8 268.7,1390.1 248.5,1390.1 242.2,1370.8" fill="none" stroke="#FB6501" stroke-width="3.5"/><polygon points="260.2,1374.8 276.6,1386.6 270.3,1405.9 250.1,1405.9 243.8,1386.6" fill="none" stroke="#FB6501" stroke-width="3.5"/><polygon points="303.6,718.6 320.0,730.5 313.7,749.8 293.5,749.8 287.2,730.5" fill="none" stroke="#FB6501" stroke-width="3.5"/><polygon points="299.3,766.8 315.7,778.7 309.4,798.0 289.2,798.0 282.9,778.7" fill="none" stroke="#FB6501" stroke-width="3.5"/><polygon points="305.5,833.1 321.9,845.0 315.6,864.3 295.4,864.3 289.1,845.0" fill="none" stroke="#FB6501" stroke-width="3.5"/><polygon points="304.8,859.6 321.2,871.5 314.9,890.8 294.7,890.8 288.4,871.5" fill="none" stroke="#FB6501" stroke-width="3.5"/><polygon points="306.5,898.1 322.9,910.0 316.6,929.3 296.4,929.3 290.1,910.0" fill="none" stroke="#FB6501" stroke-width="3.5"/><polygon points="296.4,977.1 312.8,989.0 306.5,1008.3 286.3,1008.3 280.0,989.0" fill="none" stroke="#FB6501" stroke-width="3.5"/><polygon points="292.8,1116.4 309.2,1128.2 302.9,1147.5 282.7,1147.5 276.4,1128.2" fill="none" stroke="#FB6501" stroke-width="3.5"/><polygon points="307.2,1211.5 323.6,1223.3 317.3,1242.6 297.1,1242.6 290.8,1223.3" fill="none" stroke="#FB6501" stroke-width="3.5"/><polygon points="290.7,1285.9 307.1,1297.7 300.8,1317.0 280.6,1317.0 274.3,1297.7" fill="none" stroke="#FB6501" stroke-width="3.5"/><polygon points="310.9,1288.5 327.3,1300.3 321.0,1319.6 300.8,1319.6 294.5,1300.3" fill="none" stroke="#FB6501" stroke-width="3.5"/><polygon points="278.5,1352.8 294.9,1364.6 288.6,1383.9 268.4,1383.9 262.1,1364.6" fill="none" stroke="#FB6501" stroke-width="3.5"/><polygon points="285.3,1353.2 301.7,1365.1 295.4,1384.4 275.2,1384.4 268.9,1365.1" fill="none" stroke="#FB6501" stroke-width="3.5"/><polygon points="323.8,1383.2 340.2,1395.0 333.9,1414.3 313.7,1414.3 307.4,1395.0" fill="none" stroke="#FB6501" stroke-width="3.5"/><polygon points="331.2,1414.0 347.6,1425.8 341.3,1445.1 321.1,1445.1 314.8,1425.8" fill="none" stroke="#FB6501" stroke-width="3.5"/><polygon points="356.9,1412.2 373.3,1424.0 367.0,1443.3 346.8,1443.3 340.5,1424.0" fill="none" stroke="#FB6501" stroke-width="3.5"/><polygon points="382.6,1415.7 399.0,1427.5 392.7,1446.8 372.5,1446.8 366.2,1427.5" fill="none" stroke="#FB6501" stroke-width="3.5"/><polygon points="408.3,1414.2 424.7,1426.1 418.4,1445.4 398.2,1445.4 391.9,1426.1" fill="none" stroke="#FB6501" stroke-width="3.5"/><polygon points="434.0,1414.2 450.4,1426.1 444.1,1445.4 423.9,1445.4 417.6,1426.1" fill="none" stroke="#FB6501" stroke-width="3.5"/><polygon points="459.6,1412.9 476.0,1424.7 469.7,1444.0 449.5,1444.0 443.2,1424.7" fill="none" stroke="#FB6501" stroke-width="3.5"/><polygon points="471.0,1422.2 487.4,1434.0 481.1,1453.3 460.9,1453.3 454.6,1434.0" fill="none" stroke="#FB6501" stroke-width="3.5"/></g>
</g>
<g id="arrow">
<path d="M392.3,1106.4 Q520.4,918.6 682,832.5" fill="none" stroke="#000" stroke-width="3.6"/>
<polygon points="713.2,826.4 679.5,818.2 681,836.6" fill="#000"/>
</g>
<g id="inset-axes">
<rect x="619.00" y="236.00" width="3.00" height="789.00" fill="#000"/>
<rect x="614.00" y="1016.30" width="775.00" height="3.70" fill="#000"/>
<rect x="608.00" y="951.80" width="12.00" height="3.20" fill="#000"/>
<rect x="614.00" y="886.70" width="6.00" height="3.20" fill="#000"/>
<rect x="608.00" y="821.60" width="12.00" height="3.20" fill="#000"/>
<rect x="614.00" y="756.50" width="6.00" height="3.20" fill="#000"/>
<rect x="608.00" y="691.40" width="12.00" height="3.20" fill="#000"/>
<rect x="614.00" y="626.30" width="6.00" height="3.20" fill="#000"/>
<rect x="608.00" y="561.20" width="12.00" height="3.20" fill="#000"/>
<rect x="614.00" y="496.10" width="6.00" height="3.20" fill="#000"/>
<rect x="608.00" y="431.00" width="12.00" height="3.20" fill="#000"/>
<rect x="614.00" y="365.90" width="6.00" height="3.20" fill="#000"/>
<rect x="608.00" y="300.80" width="12.00" height="3.20" fill="#000"/>
<rect x="614.00" y="236.00" width="6.00" height="3.50" fill="#000"/>
<rect x="673.90" y="1018.00" width="3.20" height="14.00" fill="#000"/>
<rect x="728.40" y="1018.00" width="3.60" height="7.00" fill="#000"/>
<rect x="783.30" y="1018.00" width="3.20" height="14.00" fill="#000"/>
<rect x="837.80" y="1018.00" width="3.60" height="7.00" fill="#000"/>
<rect x="892.70" y="1018.00" width="3.20" height="14.00" fill="#000"/>
<rect x="947.20" y="1018.00" width="3.60" height="7.00" fill="#000"/>
<rect x="1002.10" y="1018.00" width="3.20" height="14.00" fill="#000"/>
<rect x="1056.60" y="1018.00" width="3.60" height="7.00" fill="#000"/>
<rect x="1111.50" y="1018.00" width="3.20" height="14.00" fill="#000"/>
<rect x="1166.00" y="1018.00" width="3.60" height="7.00" fill="#000"/>
<rect x="1220.90" y="1018.00" width="3.20" height="14.00" fill="#000"/>
<rect x="1275.40" y="1018.00" width="3.60" height="7.00" fill="#000"/>
<rect x="1330.30" y="1018.00" width="3.20" height="14.00" fill="#000"/>
<rect x="1384.80" y="1018.00" width="3.60" height="7.00" fill="#000"/>
<text transform="translate(551.65,310.70) scale(0.9532,1)" font-size="28">0.25</text>
<text transform="translate(551.65,440.90) scale(0.9532,1)" font-size="28">0.20</text>
<text transform="translate(551.65,571.10) scale(0.9532,1)" font-size="28">0.15</text>
<text transform="translate(551.65,701.30) scale(0.9532,1)" font-size="28">0.10</text>
<text transform="translate(551.65,831.50) scale(0.9532,1)" font-size="28">0.05</text>
<text transform="translate(551.65,961.70) scale(0.9532,1)" font-size="28">0.00</text>
<text transform="translate(658.85,1060.80) scale(0.9545,1)" font-size="28">0.0</text>
<text transform="translate(767.61,1060.80) scale(0.9939,1)" font-size="28">0.6</text>
<text transform="translate(877.92,1060.80) scale(0.9267,1)" font-size="28">1.1</text>
<text transform="translate(986.50,1060.80) scale(1.0000,1)" font-size="28">1.7</text>
<text transform="translate(1095.78,1060.80) scale(1.0156,1)" font-size="28">2.2</text>
<text transform="translate(1205.63,1060.80) scale(0.9667,1)" font-size="28">2.8</text>
<text transform="translate(1314.64,1060.80) scale(0.9636,1)" font-size="28">3.3</text>
</g>
<g id="inset-data" shape-rendering="crispEdges">
<g id="stage1"><polyline points="675.5,953.4 738.2,953.4 780.4,943.3 785.2,906.5 787.6,864.3 789.4,816.1 790.4,780.0 793.5,612.5 796.0,780.0 797.4,825.0 809.5,950.0 823.7,953.5 839.4,953.5 917.0,953.5 1309.7,953.4" fill="none" stroke="#515151" stroke-width="1.6" stroke-linejoin="round" stroke-linecap="round" /><rect x="670.9" y="948.8" width="9.2" height="9.2" rx="1" fill="#515151"/><rect x="733.6" y="948.8" width="9.2" height="9.2" rx="1" fill="#515151"/><rect x="775.8" y="938.7" width="9.2" height="9.2" rx="1" fill="#515151"/><rect x="780.9" y="896.4" width="9.2" height="9.2" rx="1" fill="#515151"/><rect x="782.8" y="864.0" width="9.2" height="9.2" rx="1" fill="#515151"/><rect x="784.5" y="820.4" width="9.2" height="9.2" rx="1" fill="#515151"/><rect x="786.5" y="736.4" width="9.2" height="9.2" rx="1" fill="#515151"/><rect x="787.1" y="703.4" width="9.2" height="9.2" rx="1" fill="#515151"/><rect x="788.6" y="623.4" width="9.2" height="9.2" rx="1" fill="#515151"/><rect x="788.9" y="607.9" width="9.2" height="9.2" rx="1" fill="#515151"/><rect x="789.7" y="651.4" width="9.2" height="9.2" rx="1" fill="#515151"/><rect x="790.8" y="712.4" width="9.2" height="9.2" rx="1" fill="#515151"/><rect x="791.7" y="760.4" width="9.2" height="9.2" rx="1" fill="#515151"/><rect x="792.8" y="820.4" width="9.2" height="9.2" rx="1" fill="#515151"/><rect x="804.9" y="945.4" width="9.2" height="9.2" rx="1" fill="#515151"/><rect x="819.1" y="948.9" width="9.2" height="9.2" rx="1" fill="#515151"/><rect x="835.1" y="948.7" width="9.2" height="9.2" rx="1" fill="#515151"/><rect x="853.9" y="948.9" width="9.2" height="9.2" rx="1" fill="#515151"/><rect x="856.9" y="948.9" width="9.2" height="9.2" rx="1" fill="#515151"/><rect x="859.9" y="948.9" width="9.2" height="9.2" rx="1" fill="#515151"/><rect x="862.9" y="948.9" width="9.2" height="9.2" rx="1" fill="#515151"/><rect x="865.9" y="948.9" width="9.2" height="9.2" rx="1" fill="#515151"/><rect x="868.9" y="948.9" width="9.2" height="9.2" rx="1" fill="#515151"/><rect x="871.9" y="948.9" width="9.2" height="9.2" rx="1" fill="#515151"/><rect x="874.9" y="948.9" width="9.2" height="9.2" rx="1" fill="#515151"/><rect x="877.9" y="948.9" width="9.2" height="9.2" rx="1" fill="#515151"/><rect x="880.9" y="948.9" width="9.2" height="9.2" rx="1" fill="#515151"/><rect x="883.9" y="948.9" width="9.2" height="9.2" rx="1" fill="#515151"/><rect x="886.9" y="948.9" width="9.2" height="9.2" rx="1" fill="#515151"/><rect x="889.9" y="948.9" width="9.2" height="9.2" rx="1" fill="#515151"/><rect x="892.9" y="948.9" width="9.2" height="9.2" rx="1" fill="#515151"/><rect x="895.9" y="948.9" width="9.2" height="9.2" rx="1" fill="#515151"/><rect x="898.9" y="948.9" width="9.2" height="9.2" rx="1" fill="#515151"/><rect x="901.9" y="948.9" width="9.2" height="9.2" rx="1" fill="#515151"/><rect x="904.9" y="948.9" width="9.2" height="9.2" rx="1" fill="#515151"/><rect x="907.9" y="948.9" width="9.2" height="9.2" rx="1" fill="#515151"/><rect x="958.5" y="948.8" width="9.2" height="9.2" rx="1" fill="#515151"/><rect x="1020.3" y="948.8" width="9.2" height="9.2" rx="1" fill="#515151"/><rect x="1082.6" y="948.8" width="9.2" height="9.2" rx="1" fill="#515151"/><rect x="1144.7" y="948.8" width="9.2" height="9.2" rx="1" fill="#515151"/><rect x="1207.5" y="948.8" width="9.2" height="9.2" rx="1" fill="#515151"/><rect x="1270.8" y="948.8" width="9.2" height="9.2" rx="1" fill="#515151"/><rect x="1305.1" y="948.8" width="9.2" height="9.2" rx="1" fill="#515151"/></g>
<g id="stage2"><polyline points="675.5,953.4 738.2,953.4 812.3,954.0 823.7,952.3 839.7,939.4 856.3,919.4 863.2,913.8 868.8,911.7 874.3,908.3 877.8,903.4 880.6,897.9 886.1,866.3 889.5,835.0 891.6,808.0 894.5,830.0 897.5,851.5 899.3,871.6 904.8,903.4 913.8,931.1 920.7,934.2 960.0,948.1 1024.9,952.8 1087.2,953.4 1309.7,953.4" fill="none" stroke="#F14040" stroke-width="1.6" stroke-linejoin="round" stroke-linecap="round" /><circle cx="675.5" cy="953.4" r="4.6" fill="#F14040"/><circle cx="738.2" cy="953.4" r="4.6" fill="#F14040"/><circle cx="782.8" cy="953.4" r="4.6" fill="#F14040"/><circle cx="812.3" cy="954.0" r="4.6" fill="#F14040"/><circle cx="823.7" cy="952.3" r="4.6" fill="#F14040"/><circle cx="839.7" cy="939.4" r="4.6" fill="#F14040"/><circle cx="856.3" cy="919.4" r="4.6" fill="#F14040"/><circle cx="858.0" cy="918.3" r="4.6" fill="#F14040"/><circle cx="859.8" cy="916.5" r="4.6" fill="#F14040"/><circle cx="861.5" cy="915.6" r="4.6" fill="#F14040"/><circle cx="863.2" cy="913.8" r="4.6" fill="#F14040"/><circle cx="865.0" cy="913.4" r="4.6" fill="#F14040"/><circle cx="866.9" cy="912.0" r="4.6" fill="#F14040"/><circle cx="868.8" cy="911.7" r="4.6" fill="#F14040"/><circle cx="870.6" cy="910.4" r="4.6" fill="#F14040"/><circle cx="872.5" cy="909.8" r="4.6" fill="#F14040"/><circle cx="874.3" cy="908.3" r="4.6" fill="#F14040"/><circle cx="876.0" cy="906.0" r="4.6" fill="#F14040"/><circle cx="877.8" cy="903.4" r="4.6" fill="#F14040"/><circle cx="879.2" cy="900.5" r="4.6" fill="#F14040"/><circle cx="880.6" cy="897.9" r="4.6" fill="#F14040"/><circle cx="886.1" cy="866.3" r="4.6" fill="#F14040"/><circle cx="891.2" cy="817.0" r="4.6" fill="#F14040"/><circle cx="891.6" cy="812.0" r="4.6" fill="#F14040"/><circle cx="891.6" cy="808.0" r="4.6" fill="#F14040"/><circle cx="897.5" cy="851.5" r="4.6" fill="#F14040"/><circle cx="899.3" cy="871.6" r="4.6" fill="#F14040"/><circle cx="904.8" cy="903.4" r="4.6" fill="#F14040"/><circle cx="913.8" cy="931.1" r="4.6" fill="#F14040"/><circle cx="963.1" cy="948.1" r="4.6" fill="#F14040"/><circle cx="1024.9" cy="953.4" r="4.6" fill="#F14040"/><circle cx="1087.2" cy="953.4" r="4.6" fill="#F14040"/><circle cx="1149.3" cy="953.4" r="4.6" fill="#F14040"/><circle cx="1212.1" cy="953.4" r="4.6" fill="#F14040"/><circle cx="1275.4" cy="953.4" r="4.6" fill="#F14040"/><circle cx="1309.7" cy="953.4" r="4.6" fill="#F14040"/></g>
<g id="stage3"><polyline points="675.5,953.9 738.2,953.9 812.0,953.9 824.3,951.5 839.7,934.4 857.7,876.2 863.9,841.6 863.9,830.5 868.1,818.1 869.5,811.1 874.3,777.2 881.0,759.5 885.4,782.1 890.2,841.6 893.0,859.6 894.4,890.1 895.8,906.7 896.5,923.3 897.9,937.2 899.3,945.5 902.7,953.0 913.1,953.0 1309.7,953.9" fill="none" stroke="#1A6FDF" stroke-width="1.6" stroke-linejoin="round" stroke-linecap="round" /><polygon points="675.5,946.6 681.1,957.0 669.9,957.0" fill="#1A6FDF" stroke="#1A6FDF" stroke-width="0.6" stroke-linejoin="round"/><polygon points="738.2,946.6 743.8,957.0 732.6,957.0" fill="#1A6FDF" stroke="#1A6FDF" stroke-width="0.6" stroke-linejoin="round"/><polygon points="782.8,946.6 788.4,957.0 777.2,957.0" fill="#1A6FDF" stroke="#1A6FDF" stroke-width="0.6" stroke-linejoin="round"/><polygon points="790.0,946.6 795.6,957.0 784.4,957.0" fill="#1A6FDF" stroke="#1A6FDF" stroke-width="0.6" stroke-linejoin="round"/><polygon points="796.0,946.6 801.6,957.0 790.4,957.0" fill="#1A6FDF" stroke="#1A6FDF" stroke-width="0.6" stroke-linejoin="round"/><polygon points="812.0,946.6 817.6,957.0 806.4,957.0" fill="#1A6FDF" stroke="#1A6FDF" stroke-width="0.6" stroke-linejoin="round"/><polygon points="824.3,944.2 829.9,954.6 818.7,954.6" fill="#1A6FDF" stroke="#1A6FDF" stroke-width="0.6" stroke-linejoin="round"/><polygon points="839.7,927.1 845.3,937.5 834.1,937.5" fill="#1A6FDF" stroke="#1A6FDF" stroke-width="0.6" stroke-linejoin="round"/><polygon points="857.7,868.9 863.3,879.3 852.1,879.3" fill="#1A6FDF" stroke="#1A6FDF" stroke-width="0.6" stroke-linejoin="round"/><polygon points="863.9,834.3 869.5,844.7 858.3,844.7" fill="#1A6FDF" stroke="#1A6FDF" stroke-width="0.6" stroke-linejoin="round"/><polygon points="863.9,823.2 869.5,833.6 858.3,833.6" fill="#1A6FDF" stroke="#1A6FDF" stroke-width="0.6" stroke-linejoin="round"/><polygon points="868.1,810.8 873.7,821.2 862.5,821.2" fill="#1A6FDF" stroke="#1A6FDF" stroke-width="0.6" stroke-linejoin="round"/><polygon points="869.5,803.8 875.1,814.2 863.9,814.2" fill="#1A6FDF" stroke="#1A6FDF" stroke-width="0.6" stroke-linejoin="round"/><polygon points="874.3,769.9 879.9,780.3 868.7,780.3" fill="#1A6FDF" stroke="#1A6FDF" stroke-width="0.6" stroke-linejoin="round"/><polygon points="881.0,752.2 886.6,762.6 875.4,762.6" fill="#1A6FDF" stroke="#1A6FDF" stroke-width="0.6" stroke-linejoin="round"/><polygon points="885.4,774.8 891.0,785.2 879.8,785.2" fill="#1A6FDF" stroke="#1A6FDF" stroke-width="0.6" stroke-linejoin="round"/><polygon points="890.2,834.3 895.8,844.7 884.6,844.7" fill="#1A6FDF" stroke="#1A6FDF" stroke-width="0.6" stroke-linejoin="round"/><polygon points="893.0,852.3 898.6,862.7 887.4,862.7" fill="#1A6FDF" stroke="#1A6FDF" stroke-width="0.6" stroke-linejoin="round"/><polygon points="894.4,882.8 900.0,893.2 888.8,893.2" fill="#1A6FDF" stroke="#1A6FDF" stroke-width="0.6" stroke-linejoin="round"/><polygon points="895.8,899.4 901.4,909.8 890.2,909.8" fill="#1A6FDF" stroke="#1A6FDF" stroke-width="0.6" stroke-linejoin="round"/><polygon points="896.5,916.0 902.1,926.4 890.9,926.4" fill="#1A6FDF" stroke="#1A6FDF" stroke-width="0.6" stroke-linejoin="round"/><polygon points="897.9,929.9 903.5,940.3 892.3,940.3" fill="#1A6FDF" stroke="#1A6FDF" stroke-width="0.6" stroke-linejoin="round"/><polygon points="899.3,938.2 904.9,948.6 893.7,948.6" fill="#1A6FDF" stroke="#1A6FDF" stroke-width="0.6" stroke-linejoin="round"/><polygon points="902.7,945.7 908.3,956.1 897.1,956.1" fill="#1A6FDF" stroke="#1A6FDF" stroke-width="0.6" stroke-linejoin="round"/><polygon points="913.1,945.7 918.7,956.1 907.5,956.1" fill="#1A6FDF" stroke="#1A6FDF" stroke-width="0.6" stroke-linejoin="round"/><polygon points="963.1,946.6 968.7,957.0 957.5,957.0" fill="#1A6FDF" stroke="#1A6FDF" stroke-width="0.6" stroke-linejoin="round"/><polygon points="1024.9,946.6 1030.5,957.0 1019.3,957.0" fill="#1A6FDF" stroke="#1A6FDF" stroke-width="0.6" stroke-linejoin="round"/><polygon points="1087.2,946.6 1092.8,957.0 1081.6,957.0" fill="#1A6FDF" stroke="#1A6FDF" stroke-width="0.6" stroke-linejoin="round"/><polygon points="1149.3,946.6 1154.9,957.0 1143.7,957.0" fill="#1A6FDF" stroke="#1A6FDF" stroke-width="0.6" stroke-linejoin="round"/><polygon points="1212.1,946.6 1217.7,957.0 1206.5,957.0" fill="#1A6FDF" stroke="#1A6FDF" stroke-width="0.6" stroke-linejoin="round"/><polygon points="1275.4,946.6 1281.0,957.0 1269.8,957.0" fill="#1A6FDF" stroke="#1A6FDF" stroke-width="0.6" stroke-linejoin="round"/><polygon points="1309.7,946.6 1315.3,957.0 1304.1,957.0" fill="#1A6FDF" stroke="#1A6FDF" stroke-width="0.6" stroke-linejoin="round"/></g>
<g id="inset-sim"><polyline points="675.5,953.4 738.2,953.4 780.4,943.3 785.2,906.5 787.6,864.3 789.4,816.1 790.4,780.0 793.5,612.5 796.0,780.0 797.2,816.1 800.2,846.3 803.9,876.4 807.5,906.5 810.5,930.6 813.5,948.1 824.3,942.7 836.4,924.6 842.4,906.5 848.4,876.4 854.5,846.3 860.5,816.1 865.3,780.0 868.3,770.7 872.5,740.6 877.3,716.5 882.0,702.0 887.0,694.2 890.0,696.0 892.4,700.8 894.2,722.5 895.4,758.7 896.6,782.8 897.8,816.1 899.0,852.3 901.4,888.4 905.1,912.5 911.1,929.4 920.7,934.2 960.0,947.6 1024.9,951.6 1087.2,952.4 1309.7,952.4" fill="none" stroke="#37AD6B" stroke-width="5" stroke-linejoin="round" stroke-linecap="round" /></g>
<g id="inset-exp"><polygon points="675.5,944.8 684.1,953.4 675.5,962.0 666.9,953.4" fill="none" stroke="#B177DE" stroke-width="2.5"/><polygon points="738.2,944.8 746.8,953.4 738.2,962.0 729.6,953.4" fill="none" stroke="#B177DE" stroke-width="2.5"/><polygon points="782.8,941.9 791.4,950.5 782.8,959.1 774.2,950.5" fill="none" stroke="#B177DE" stroke-width="2.5"/><polygon points="793.0,303.0 801.6,311.6 793.0,320.2 784.4,311.6" fill="none" stroke="#B177DE" stroke-width="2.5"/><polygon points="792.3,446.3 800.9,454.9 792.3,463.5 783.7,454.9" fill="none" stroke="#B177DE" stroke-width="2.5"/><polygon points="794.0,505.9 802.6,514.5 794.0,523.1 785.4,514.5" fill="none" stroke="#B177DE" stroke-width="2.5"/><polygon points="792.4,665.4 801.0,674.0 792.4,682.6 783.8,674.0" fill="none" stroke="#B177DE" stroke-width="2.5"/><polygon points="791.4,765.7 800.0,774.3 791.4,782.9 782.8,774.3" fill="none" stroke="#B177DE" stroke-width="2.5"/><polygon points="794.8,782.0 803.4,790.6 794.8,799.2 786.2,790.6" fill="none" stroke="#B177DE" stroke-width="2.5"/><polygon points="790.4,823.4 799.0,832.0 790.4,840.6 781.8,832.0" fill="none" stroke="#B177DE" stroke-width="2.5"/><polygon points="789.4,881.0 798.0,889.6 789.4,898.2 780.8,889.6" fill="none" stroke="#B177DE" stroke-width="2.5"/><polygon points="795.4,879.8 804.0,888.4 795.4,897.0 786.8,888.4" fill="none" stroke="#B177DE" stroke-width="2.5"/><polygon points="794.8,905.1 803.4,913.7 794.8,922.3 786.2,913.7" fill="none" stroke="#B177DE" stroke-width="2.5"/><polygon points="788.2,911.8 796.8,920.4 788.2,929.0 779.6,920.4" fill="none" stroke="#B177DE" stroke-width="2.5"/><polygon points="797.8,919.0 806.4,927.6 797.8,936.2 789.2,927.6" fill="none" stroke="#B177DE" stroke-width="2.5"/><polygon points="787.6,925.6 796.2,934.2 787.6,942.8 779.0,934.2" fill="none" stroke="#B177DE" stroke-width="2.5"/><polygon points="812.3,900.3 820.9,908.9 812.3,917.5 803.7,908.9" fill="none" stroke="#B177DE" stroke-width="2.5"/><polygon points="815.9,903.9 824.5,912.5 815.9,921.1 807.3,912.5" fill="none" stroke="#B177DE" stroke-width="2.5"/><polygon points="824.3,925.0 832.9,933.6 824.3,942.2 815.7,933.6" fill="none" stroke="#B177DE" stroke-width="2.5"/><polygon points="839.4,910.6 848.0,919.2 839.4,927.8 830.8,919.2" fill="none" stroke="#B177DE" stroke-width="2.5"/><polygon points="857.5,850.9 866.1,859.5 857.5,868.1 848.9,859.5" fill="none" stroke="#B177DE" stroke-width="2.5"/><polygon points="864.1,821.4 872.7,830.0 864.1,838.6 855.5,830.0" fill="none" stroke="#B177DE" stroke-width="2.5"/><polygon points="866.5,787.1 875.1,795.7 866.5,804.3 857.9,795.7" fill="none" stroke="#B177DE" stroke-width="2.5"/><polygon points="867.7,781.0 876.3,789.6 867.7,798.2 859.1,789.6" fill="none" stroke="#B177DE" stroke-width="2.5"/><polygon points="869.2,758.3 877.8,766.9 869.2,775.5 860.6,766.9" fill="none" stroke="#B177DE" stroke-width="2.5"/><polygon points="871.6,731.8 880.2,740.4 871.6,749.0 863.0,740.4" fill="none" stroke="#B177DE" stroke-width="2.5"/><polygon points="874.3,695.6 882.9,704.2 874.3,712.8 865.7,704.2" fill="none" stroke="#B177DE" stroke-width="2.5"/><polygon points="878.6,668.1 887.2,676.7 878.6,685.3 870.0,676.7" fill="none" stroke="#B177DE" stroke-width="2.5"/><polygon points="881.2,662.4 889.8,671.0 881.2,679.6 872.6,671.0" fill="none" stroke="#B177DE" stroke-width="2.5"/><polygon points="884.6,665.7 893.2,674.3 884.6,682.9 876.0,674.3" fill="none" stroke="#B177DE" stroke-width="2.5"/><polygon points="886.4,676.6 895.0,685.2 886.4,693.8 877.8,685.2" fill="none" stroke="#B177DE" stroke-width="2.5"/><polygon points="891.8,668.7 900.4,677.3 891.8,685.9 883.2,677.3" fill="none" stroke="#B177DE" stroke-width="2.5"/><polygon points="893.6,674.2 902.2,682.8 893.6,691.4 885.0,682.8" fill="none" stroke="#B177DE" stroke-width="2.5"/><polygon points="895.1,721.8 903.7,730.4 895.1,739.0 886.5,730.4" fill="none" stroke="#B177DE" stroke-width="2.5"/><polygon points="896.6,771.8 905.2,780.4 896.6,789.0 888.0,780.4" fill="none" stroke="#B177DE" stroke-width="2.5"/><polygon points="897.6,826.2 906.2,834.8 897.6,843.4 889.0,834.8" fill="none" stroke="#B177DE" stroke-width="2.5"/><polygon points="898.4,864.8 907.0,873.4 898.4,882.0 889.8,873.4" fill="none" stroke="#B177DE" stroke-width="2.5"/><polygon points="899.6,883.4 908.2,892.0 899.6,900.6 891.0,892.0" fill="none" stroke="#B177DE" stroke-width="2.5"/><polygon points="903.5,908.7 912.1,917.3 903.5,925.9 894.9,917.3" fill="none" stroke="#B177DE" stroke-width="2.5"/><polygon points="913.5,925.0 922.1,933.6 913.5,942.2 904.9,933.6" fill="none" stroke="#B177DE" stroke-width="2.5"/><polygon points="963.1,938.9 971.7,947.5 963.1,956.1 954.5,947.5" fill="none" stroke="#B177DE" stroke-width="2.5"/><polygon points="1024.9,944.4 1033.5,953.0 1024.9,961.6 1016.3,953.0" fill="none" stroke="#B177DE" stroke-width="2.5"/><polygon points="1087.2,944.8 1095.8,953.4 1087.2,962.0 1078.6,953.4" fill="none" stroke="#B177DE" stroke-width="2.5"/><polygon points="1149.3,944.8 1157.9,953.4 1149.3,962.0 1140.7,953.4" fill="none" stroke="#B177DE" stroke-width="2.5"/><polygon points="1212.1,944.8 1220.7,953.4 1212.1,962.0 1203.5,953.4" fill="none" stroke="#B177DE" stroke-width="2.5"/><polygon points="1275.4,944.8 1284.0,953.4 1275.4,962.0 1266.8,953.4" fill="none" stroke="#B177DE" stroke-width="2.5"/><polygon points="1309.7,944.8 1318.3,953.4 1309.7,962.0 1301.1,953.4" fill="none" stroke="#B177DE" stroke-width="2.5"/></g>
</g>
<g id="inset-legend" shape-rendering="crispEdges">
<rect x="1079.00" y="369.00" width="191.00" height="2.20" fill="#000"/><rect x="1079.00" y="583.60" width="191.00" height="2.30" fill="#000"/><rect x="1079.00" y="369.00" width="2.10" height="216.90" fill="#000"/><rect x="1267.90" y="369.00" width="2.10" height="216.90" fill="#000"/>
<line x1="1084.00" y1="393.85" x2="1159.90" y2="393.85" stroke="#515151" stroke-width="2.2" stroke-linecap="butt"/><rect x="1116.9" y="389.0" width="9.2" height="9.2" rx="1" fill="#515151"/>
<line x1="1084.00" y1="436.00" x2="1159.90" y2="436.00" stroke="#F14040" stroke-width="2.2" stroke-linecap="butt"/><circle cx="1121.5" cy="435.6" r="4.6" fill="#F14040"/>
<line x1="1084.00" y1="477.90" x2="1159.90" y2="477.90" stroke="#1A6FDF" stroke-width="2.2" stroke-linecap="butt"/><polygon points="1121.5,470.8 1127.1,481.2 1115.9,481.2" fill="#1A6FDF" stroke="#1A6FDF" stroke-width="0.6" stroke-linejoin="round"/>
<line x1="1085.60" y1="519.30" x2="1158.60" y2="519.30" stroke="#37AD6B" stroke-width="5" stroke-linecap="round"/>
<polygon points="1121.4,552.6 1130.0,561.2 1121.4,569.8 1112.8,561.2" fill="none" stroke="#B177DE" stroke-width="2.5"/>
<text transform="translate(1166.45,404.90) scale(0.9766,1)" font-size="33"><tspan font-weight="bold">S</tspan>tage 1</text>
<text transform="translate(1166.38,447.00) scale(1.0085,1)" font-size="33"><tspan font-weight="bold">S</tspan>tage 2</text>
<text transform="translate(1166.45,489.10) scale(0.9768,1)" font-size="33"><tspan font-weight="bold">S</tspan>tage 3</text>
<text transform="translate(1166.46,531.20) scale(0.9686,1)" font-size="33"><tspan font-weight="bold">S</tspan>im</text>
<text transform="translate(1165.98,573.30) scale(1.0216,1)" font-size="33">Exp</text>
</g>
<g id="legend" shape-rendering="crispEdges">
<rect x="1463.5" y="38.5" width="602" height="934" fill="none" stroke="#000" stroke-width="3"/>
<line x1="1472.00" y1="94.00" x2="1620.00" y2="94.00" stroke="#515151" stroke-width="8" stroke-linecap="round"/>
<text transform="translate(1635.54,117.30) scale(0.9916,1)" font-size="67">Sim-0.5 °C/min</text>
<circle cx="1546.0" cy="186.2" r="14.5" fill="none" stroke="#F14040" stroke-width="3.2"/>
<text transform="translate(1635.81,209.70) scale(0.9934,1)" font-size="67">Exp-0.5 °C/min</text>
<line x1="1472.00" y1="278.80" x2="1620.00" y2="278.80" stroke="#1A6FDF" stroke-width="8" stroke-linecap="round"/>
<text transform="translate(1635.54,302.10) scale(0.9916,1)" font-size="67">Sim-1.0 °C/min</text>
<polygon points="1528.5,360.3 1563.1,360.3 1545.8,390.3" fill="none" stroke="#37AD6B" stroke-width="3.2" stroke-linejoin="miter"/>
<text transform="translate(1635.81,394.50) scale(0.9934,1)" font-size="67">Exp-1.0 °C/min</text>
<line x1="1472.00" y1="463.60" x2="1620.00" y2="463.60" stroke="#B177DE" stroke-width="8" stroke-linecap="round"/>
<text transform="translate(1635.54,486.90) scale(0.9916,1)" font-size="67">Sim-2.0 °C/min</text>
<polygon points="1556.6,538.3 1556.6,572.7 1526.6,555.5" fill="none" stroke="#CC9900" stroke-width="3.2" stroke-linejoin="miter"/>
<text transform="translate(1635.81,579.30) scale(0.9934,1)" font-size="67">Exp-2.0 °C/min</text>
<line x1="1472.00" y1="648.40" x2="1620.00" y2="648.40" stroke="#00CBCC" stroke-width="8" stroke-linecap="round"/>
<text transform="translate(1635.54,671.70) scale(0.9916,1)" font-size="67">Sim-4.0 °C/min</text>
<polygon points="1545.5,723.7 1559.5,732.4 1559.5,748.6 1545.5,757.3 1531.5,748.6 1531.5,732.4" fill="none" stroke="#7D4E4E" stroke-width="3.2" stroke-linejoin="miter"/>
<text transform="translate(1635.81,764.10) scale(0.9934,1)" font-size="67">Exp-4.0 °C/min</text>
<line x1="1472.00" y1="833.20" x2="1620.00" y2="833.20" stroke="#8E8E00" stroke-width="8" stroke-linecap="round"/>
<text transform="translate(1635.54,856.50) scale(0.9916,1)" font-size="67">Sim-8.0 °C/min</text>
<polygon points="1545.5,908.1 1561.9,920.0 1555.6,939.2 1535.4,939.2 1529.1,920.0" fill="none" stroke="#FB6501" stroke-width="3.2" stroke-linejoin="miter"/>
<text transform="translate(1635.81,948.90) scale(0.9934,1)" font-size="67">Exp-8.0 °C/min</text>
</g>
</svg>
</body></html>
